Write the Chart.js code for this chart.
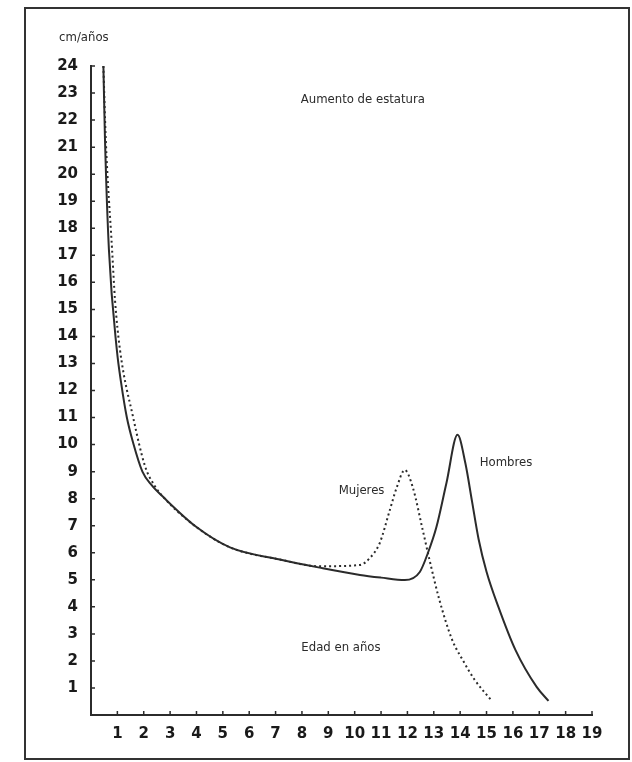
<!DOCTYPE html>
<html>
<head>
<meta charset="utf-8">
<script src="https://cdn.jsdelivr.net/npm/chart.js@4/dist/chart.umd.min.js"></script>
<style>
  html, body { margin: 0; padding: 0; background: #fff; }
  #wrap { width: 632px; height: 762px; position: relative; }
</style>
</head>
<body>
<div id="wrap"><canvas id="estatura"></canvas></div>
<script>
// Aumento de estatura (cm/año) segun edad
const hombresEdad = [0.47, 0.53, 0.68, 0.98, 1.14, 1.36, 1.6, 1.95, 2.3, 2.75, 4.0, 5.27, 7.16, 8.67, 10.2, 11.0, 11.9, 12.47, 12.78, 13.1, 13.48, 13.9, 14.2, 14.45, 14.7, 15.0, 15.45, 16.1, 16.9, 17.35];
const hombresCm   = [24, 21.3, 17.2, 13.5, 12.3, 11.0, 10.06, 9.0, 8.5, 8.05, 6.95, 6.2, 5.75, 5.45, 5.18, 5.08, 4.99, 5.29, 6.0, 6.95, 8.58, 10.36, 9.3, 7.9, 6.5, 5.3, 4.0, 2.4, 1.04, 0.52];

const mujeresEdad = [0.47, 0.56, 0.8, 0.91, 1.1, 1.6, 2.05, 2.4, 2.75, 4.0, 5.27, 7.16, 8.67, 10.2, 10.57, 10.95, 11.3, 11.6, 11.9, 12.2, 12.58, 12.84, 13.2, 13.7, 14.1, 14.55, 15.2];
const mujeresCm   = [24, 21.3, 17.2, 15.35, 13.5, 11.0, 9.2, 8.5, 8.05, 6.95, 6.2, 5.75, 5.5, 5.55, 5.8, 6.36, 7.47, 8.43, 9.06, 8.43, 6.84, 5.73, 4.3, 2.77, 2.03, 1.3, 0.52];

const xTicks = [1, 2, 3, 4, 5, 6, 7, 8, 9, 10, 11, 12, 13, 14, 15, 16, 17, 18, 19];
const yTicks = [1, 2, 3, 4, 5, 6, 7, 8, 9, 10, 11, 12, 13, 14, 15, 16, 17, 18, 19, 20, 21, 22, 23, 24];

// textos: [texto, edad, cm]
const textos = [
  ['cm/años', -0.27, 25.04],
  ['Aumento de estatura', 10.31, 22.74],
  ['Mujeres', 10.26, 8.28],
  ['Hombres', 15.74, 9.32],
  ['Edad en años', 9.48, 2.51]
];

const ink = '#2b2b2b';
const narrow = "'Liberation Sans Narrow', 'DejaVu Sans Condensed', sans-serif";

const marco = {
  id: 'marco',
  afterDraw(chart) {
    const ctx = chart.ctx;
    const x = chart.scales.x, y = chart.scales.y;
    ctx.save();
    // marco exterior
    ctx.strokeStyle = '#333';
    ctx.lineWidth = 2;
    ctx.strokeRect(25, 8, 604, 751);
    // marcas hacia dentro
    ctx.lineWidth = 1.5;
    ctx.strokeStyle = ink;
    ctx.beginPath();
    x.ticks.forEach(t => {
      const px = x.getPixelForValue(t.value);
      ctx.moveTo(px, y.bottom);
      ctx.lineTo(px, y.bottom - 4);
    });
    y.ticks.forEach(t => {
      const py = y.getPixelForValue(t.value);
      ctx.moveTo(x.left, py);
      ctx.lineTo(x.left + 4, py);
    });
    ctx.stroke();
    // textos
    ctx.fillStyle = ink;
    ctx.font = '13px ' + narrow;
    ctx.textAlign = 'center';
    ctx.textBaseline = 'middle';
    textos.forEach(([t, ex, cm]) => {
      ctx.fillText(t, x.getPixelForValue(ex), y.getPixelForValue(cm));
    });
    ctx.restore();
  }
};

const data = {
  datasets: [
    {
      label: 'Hombres',
      data: hombresEdad.map((e, i) => ({ x: e, y: hombresCm[i] })),
      borderColor: ink,
      borderWidth: 2,
      pointRadius: 0,
      cubicInterpolationMode: 'monotone'
    },
    {
      label: 'Mujeres',
      data: mujeresEdad.map((e, i) => ({ x: e, y: mujeresCm[i] })),
      borderColor: ink,
      borderWidth: 2,
      borderDash: [2, 3],
      pointRadius: 0,
      cubicInterpolationMode: 'monotone'
    }
  ]
};

new Chart(document.getElementById('estatura'), {
  type: 'line',
  data: data,
  plugins: [marco],
  options: {
    responsive: true,
    maintainAspectRatio: false,
    animation: false,
    layout: { padding: { left: 30, right: 40, top: 66, bottom: 0 } },
    plugins: {
      legend: { display: false },
      tooltip: { enabled: false }
    },
    scales: {
      x: {
        type: 'linear',
        min: 0,
        max: 19,
        afterBuildTicks: s => { s.ticks = xTicks.map(v => ({ value: v })); },
        afterFit: s => { s.height = 47; },
        grid: { display: false, drawTicks: false },
        border: { color: ink, width: 2 },
        ticks: {
          color: '#1a1a1a',
          padding: 10,
          maxRotation: 0,
          autoSkip: false,
          font: { family: 'DejaVu Sans', size: 15, weight: 'bold' }
        }
      },
      y: {
        min: 0,
        max: 24,
        afterBuildTicks: s => { s.ticks = yTicks.map(v => ({ value: v })); },
        afterFit: s => { s.width = 61; },
        grid: { display: false, drawTicks: false },
        border: { color: ink, width: 2 },
        ticks: {
          color: '#1a1a1a',
          padding: 13,
          autoSkip: false,
          font: { family: 'DejaVu Sans', size: 15, weight: 'bold' }
        }
      }
    }
  }
});
</script>
</body>
</html>
